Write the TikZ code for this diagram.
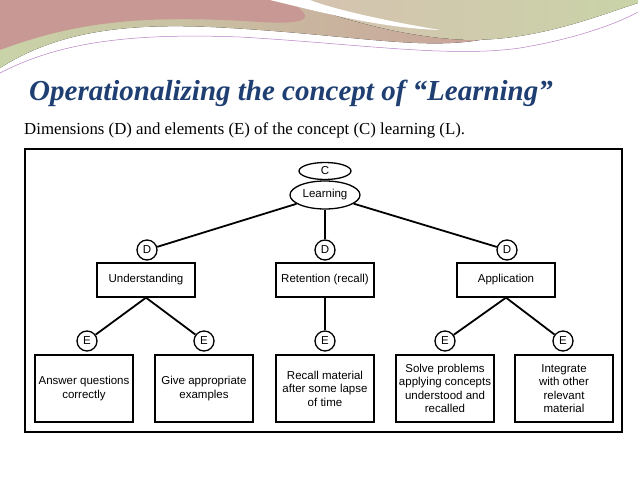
\documentclass[tikz,border=0pt]{standalone}
\usepackage{fontspec}
\setmainfont{Liberation Serif}
\setsansfont{Liberation Sans}
\usetikzlibrary{shapes.geometric}
\definecolor{titleblue}{HTML}{1F3F73}
\definecolor{swpink}{HTML}{C99595}
\definecolor{swgreen}{HTML}{C9D3A8}
\definecolor{swtan}{HTML}{C4A88E}
\tikzset{
  dfont/.style={font=\fontsize{11.5}{13.5}\selectfont\sffamily},
  circ/.style={draw, circle, minimum size=20pt, inner sep=0pt, line width=1.3pt, fill=white, dfont},
  dimbox/.style={draw, minimum width=98pt, minimum height=34pt, line width=1.3pt, dfont},
  elbox/.style={draw, minimum width=98pt, minimum height=67pt, line width=1.3pt, align=center, inner sep=1pt, dfont},
  conn/.style={line width=1.8pt}
}
\begin{document}
\begin{tikzpicture}[x=1pt,y=-1pt]
\useasboundingbox (0,0) rectangle (638,478);
% swoosh decoration
\fill[left color=swgreen, right color=swpink] (0,0) -- (0,68) .. controls (60,30) and (130,22) .. (230,28) .. controls (350,35) and (420,50) .. (480,40) .. controls (560,25) and (610,10) .. (638,0) -- cycle;
\fill[swpink!80!swtan] (0,0) -- (0,50) .. controls (80,20) and (150,15) .. (260,22) .. controls (330,26) and (300,10) .. (290,0) -- cycle;
\fill[left color=swtan!70, right color=swgreen] (290,0) .. controls (330,15) and (400,38) .. (470,40) .. controls (540,40) and (600,15) .. (638,3) -- (638,0) -- cycle;
\fill[white] (270,0) .. controls (320,12) and (380,28) .. (440,30) .. controls (380,20) and (330,8) .. (310,0) -- cycle;
\fill[white] (0,75) .. controls (60,40) and (130,30) .. (240,35) .. controls (360,42) and (450,56) .. (520,46) .. controls (580,36) and (620,20) .. (638,14) -- (638,478) -- (0,478) -- cycle;
\draw[blue!40!purple!50, line width=0.5pt] (0,73) .. controls (60,42) and (130,33) .. (240,37) .. controls (360,44) and (450,58) .. (520,48) .. controls (580,38) and (620,22) .. (638,12);
% title
\node[anchor=base west, font=\fontsize{29}{32}\selectfont\bfseries\itshape, text=titleblue, inner sep=0] (title) at (29,101) {Operationalizing the concept of “Learning”};
\node[anchor=base west, font=\fontsize{16.8}{18}\selectfont, inner sep=0] (cap) at (24,135) {Dimensions (D) and elements (E) of the concept (C) learning (L).};
% frame
\draw[line width=1.3pt] (25,149) rectangle (622,432);
% nodes
\node[draw, ellipse, minimum width=52pt, minimum height=17pt, inner sep=0, line width=1.3pt, dfont] (c) at (325,171) {C};
\node[draw, ellipse, minimum width=70pt, minimum height=28pt, inner sep=0, line width=1.3pt, dfont] (learn) at (325,195) {Learning};
\node[circ] (d1) at (147,250) {D};
\node[circ] (d2) at (325,250) {D};
\node[circ] (d3) at (507,250) {D};
\node[dimbox] (u) at (146,280) {Understanding};
\node[dimbox] (r) at (325,280) {Retention (recall)};
\node[dimbox] (a) at (506,280) {Application};
\node[circ] (e1) at (87,341) {E};
\node[circ] (e2) at (204,341) {E};
\node[circ] (e3) at (325,341) {E};
\node[circ] (e4) at (445,341) {E};
\node[circ] (e5) at (563,341) {E};
\node[elbox] (b1) at (84,388.5) {Answer questions\\correctly};
\node[elbox] (b2) at (204,388.5) {Give appropriate\\examples};
\node[elbox] (b3) at (325,388.5) {Recall material\\after some lapse\\of time};
\node[elbox] (b4) at (445,388.5) {Solve problems\\applying concepts\\understood and\\recalled};
\node[elbox] (b5) at (564,388.5) {Integrate\\with other\\relevant\\material};
% connectors
\draw[conn] (learn) -- (d1);
\draw[conn] (learn) -- (d2);
\draw[conn] (learn) -- (d3);
\draw[conn] (u.south) -- (e1);
\draw[conn] (u.south) -- (e2);
\draw[conn] (r.south) -- (e3);
\draw[conn] (a.south) -- (e4);
\draw[conn] (a.south) -- (e5);
\end{tikzpicture}
\end{document}
